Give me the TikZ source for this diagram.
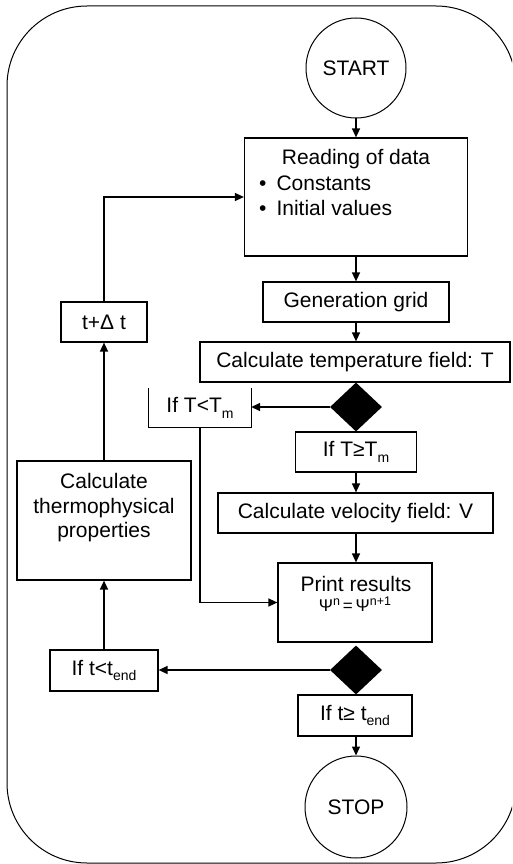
\documentclass[tikz,border=0pt]{standalone}
\usepackage{fontspec}
\setmainfont{Liberation Sans}
\usetikzlibrary{shapes.geometric,arrows.meta}
\newcommand{\lsub}[1]{\raisebox{-0.28em}{\fontsize{14}{14}\selectfont #1}}
\newcommand{\lsup}[1]{\raisebox{5.5pt}{\fontsize{12.5}{12.5}\selectfont #1}}
\begin{document}
\begin{tikzpicture}[x=1pt,y=-1pt,
  every node/.style={font=\fontsize{21}{24.5}\selectfont, inner sep=0pt},
  boxn/.style={draw, line width=1.2pt, rectangle},
  circn/.style={draw, circle, line width=1pt},
  dec/.style={diamond, fill=black, inner sep=0pt, minimum width=52pt, minimum height=49pt},
  conn/.style={line width=1.4pt, -{Triangle[length=9pt,width=8pt]}},
  plainline/.style={line width=1.2pt}
]
\useasboundingbox (0,0) rectangle (512,864);
\begin{scope}
\clip (0,0) rectangle (512,864);
\draw[line width=1pt, rounded corners=80pt] (7,6) rectangle (516,863);
\end{scope}

% nodes
\node[circn, minimum size=100pt] (start) at (356,68) {START};
\node[boxn, minimum width=223pt, minimum height=118pt] (read) at (356,197) {};
\node (readt) at (356,159) {Reading of data};
\node[anchor=west] (rb1) at (259,183) {•\hspace{10pt}Constants};
\node[anchor=west] (rb2) at (259,208) {•\hspace{10pt}Initial values};
\node[boxn, minimum width=186pt, minimum height=40pt] (grid) at (356,302) {Generation grid};
\node[boxn, minimum width=310pt, minimum height=40pt] (temp) at (355,362) {Calculate temperature field: T};
\node[dec] (d1) at (356,407) {};
\node[minimum width=102pt, minimum height=39pt] (iflt) at (200,407.5) {If T<T\lsub{m}};
\draw[plainline] (iflt.north west) -- (iflt.south west) -- (iflt.south east) -- (iflt.north east);
\node[boxn, minimum width=121pt, minimum height=40pt] (ifge) at (356,452) {If T≥T\lsub{m}};
\node[boxn, minimum width=275pt, minimum height=40pt] (vel) at (355.5,513) {Calculate velocity field: V};
\node[boxn, minimum width=154pt, minimum height=79pt] (print) at (355,602.5) {};
\node (printt) at (356,584) {Print results};
\node[anchor=base, font=\fontsize{17}{17}\selectfont] (psi) at (355,611) {Ψ\lsup{n}\,=\,Ψ\lsup{n+1}};
\node[dec] (d2) at (356,670) {};
\node[boxn, minimum width=108pt, minimum height=41pt] (iftlt) at (104,670.5) {If t<t\lsub{end}};
\node[boxn, minimum width=174pt, minimum height=119pt] (thermo) at (104,520.5) {};
\node[align=center] (thermot) at (104,508) {Calculate\\thermophysical\\properties};
\node[boxn, minimum width=86pt, minimum height=40pt] (tdt) at (104,322) {t+Δ t};
\node[boxn, minimum width=114pt, minimum height=41pt] (iftge) at (355,715.5) {If t≥ t\lsub{end}};
\node[circn, minimum size=102pt] (stop) at (356,807) {STOP};

% connectors
\draw[conn] (start.south) -- (start.south |- read.north);
\draw[conn] (read.south) -- (read.south |- grid.north);
\draw[conn] (grid.south) -- (grid.south |- temp.north);
\draw[conn] (d1.west) -- (d1.west -| iflt.east);
\draw[conn] (ifge.south) -- (ifge.south |- vel.north);
\draw[conn] (vel.south -| ifge.south) -- (ifge.south |- print.north);
\draw[conn] (iflt.south) |- (print.west);
\draw[conn] (d2.west) -- (d2.west -| iftlt.east);
\draw[conn] (iftge.south -| d2.south) -- (d2.south |- stop.north);
\draw[conn] (iftlt.north) -- (thermo.south);
\draw[conn] (thermo.north) -- (tdt.south);
\draw[conn] (tdt.north) |- (read.west);
\end{tikzpicture}
\end{document}
